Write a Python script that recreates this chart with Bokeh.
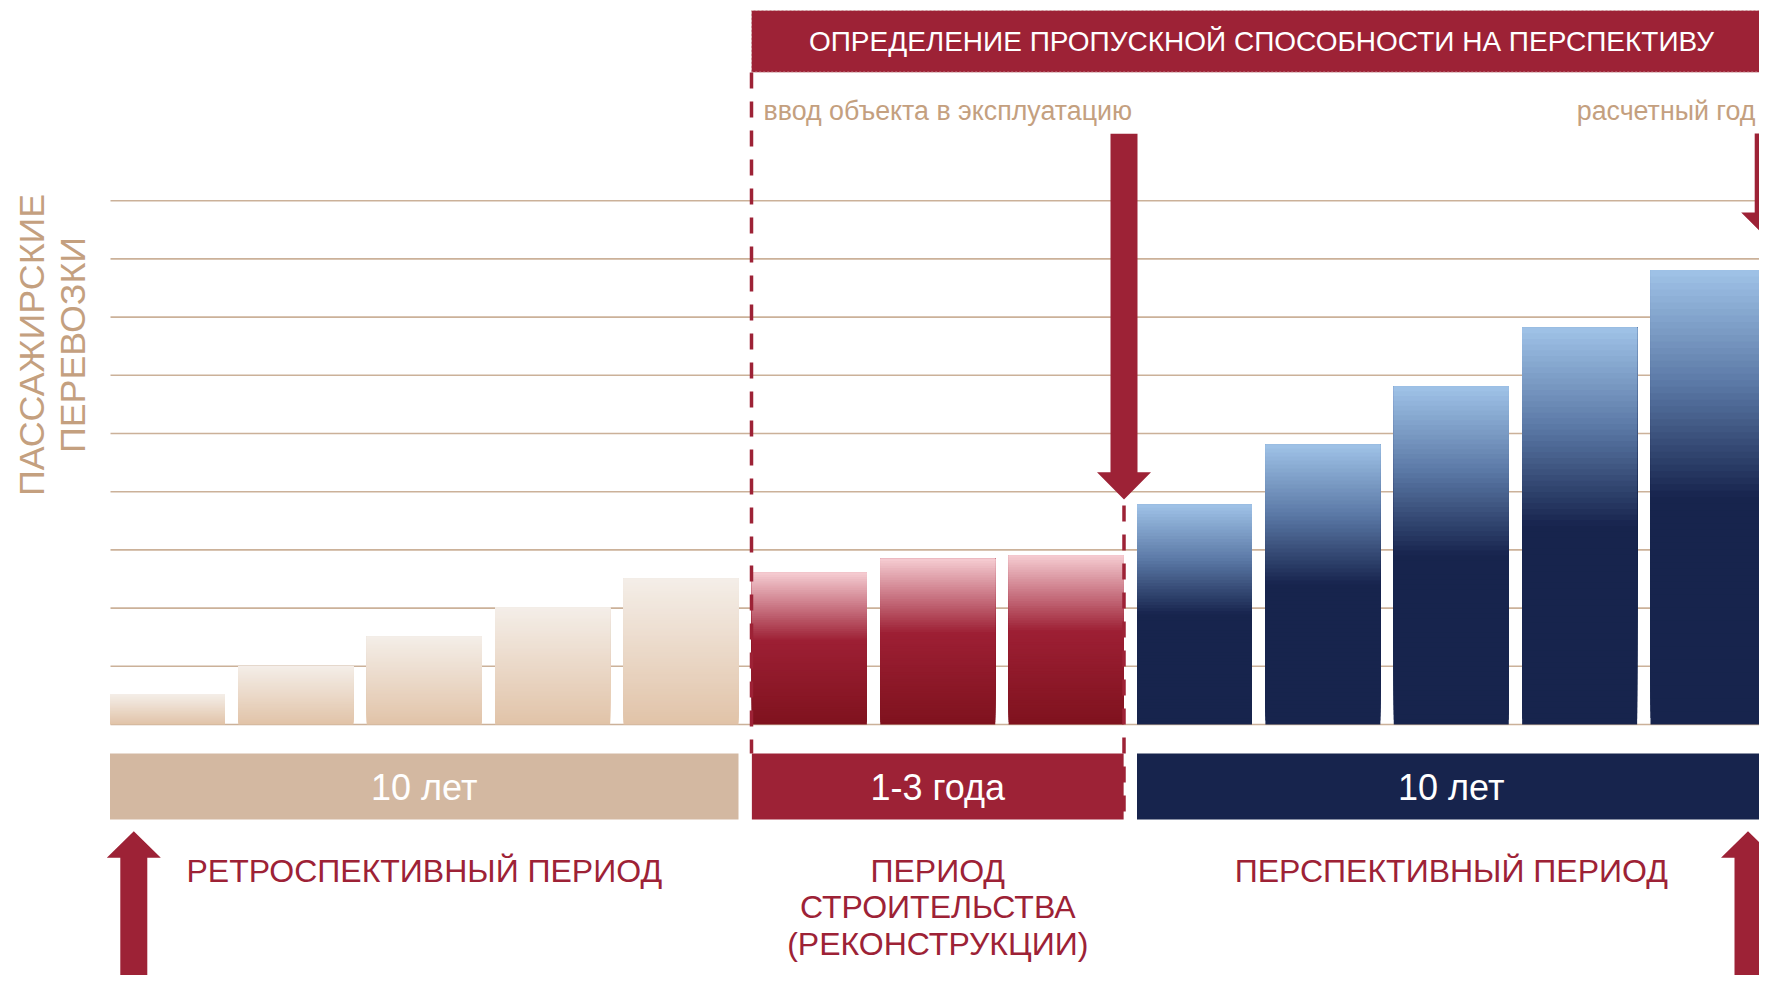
import math
from bokeh.plotting import figure
from bokeh.models import Label, Range1d
from bokeh.embed import file_html
from bokeh.resources import INLINE

# ---------------- data ----------------
retro_values = [0.52, 1.0, 1.51, 2.01, 2.51]          # ретроспективный период
construction_values = [2.61, 2.85, 2.91]              # период строительства
perspective_values = [3.78, 4.81, 5.81, 6.82, 7.81]   # перспективный период
grid_levels = [0, 1, 2, 3, 4, 5, 6, 7, 8, 9]
period_durations = ["10 лет", "1-3 года", "10 лет"]
period_names = [["РЕТРОСПЕКТИВНЫЙ ПЕРИОД"],
                ["ПЕРИОД", "СТРОИТЕЛЬСТВА", "(РЕКОНСТРУКЦИИ)"],
                ["ПЕРСПЕКТИВНЫЙ ПЕРИОД"]]
banner_text = "ОПРЕДЕЛЕНИЕ ПРОПУСКНОЙ СПОСОБНОСТИ НА ПЕРСПЕКТИВУ"
marker_texts = ["ввод объекта в эксплуатацию", "расчетный год"]
y_title = ["ПАССАЖИРСКИЕ", "ПЕРЕВОЗКИ"]

# ---------------- layout / style ----------------
W, H = 1759, 975
PX0, PITCH = 167.0, 128.375
BASE, UNIT = 724.0, 58.2
FONT = "Liberation Sans"
CRIMSON = "#9d2236"
TAN = "#c4a07f"
NAVY = "#17244d"


def X(px):
    return (px - PX0) / PITCH


def Y(py):
    return (BASE - py) / UNIT


def hex2rgb(h):
    h = h.lstrip("#")
    return [int(h[i:i + 2], 16) for i in (0, 2, 4)]


def interp(stops, f):
    for (f0, c0), (f1, c1) in zip(stops, stops[1:]):
        if f <= f1:
            t = 0 if f1 == f0 else (f - f0) / (f1 - f0)
            a, b = hex2rgb(c0), hex2rgb(c1)
            return "#%02x%02x%02x" % tuple(round(a[i] + (b[i] - a[i]) * t) for i in range(3))
    return stops[-1][1]


beige_stops = [(0.0, "#f4eee8"), (1.0, "#e1c3a8")]
red_stops = [(0.0, "#f6cdd3"), (0.45, "#9d1f34"), (1.0, "#7f121e")]
blue_stops = [(0.0, "#a0c3e8"), (0.25, "#5b79a6"), (0.5, NAVY), (1.0, NAVY)]

p = figure(width=W, height=H,
           x_range=Range1d(X(0), X(W)),
           y_range=Range1d(Y(H), Y(0)),
           output_backend="svg", toolbar_location=None,
           x_axis_location=None, y_axis_location=None,
           min_border=0, outline_line_color=None,
           background_fill_color="white", border_fill_color="white")
for g in p.grid:
    g.visible = False

# gridlines
p.segment(x0=X(110), x1=X(1765), y0=grid_levels, y1=grid_levels,
          line_color="#cbb199", line_width=1.6)

# gradient bars
BAR_W = 115 / PITCH
N = 70
groups = [(retro_values, beige_stops), (construction_values, red_stops),
          (perspective_values, blue_stops)]
L, R, B, T, C = [], [], [], [], []
group_ranges = []
idx = 0
for values, stops in groups:
    start = idx
    for v in values:
        for k in range(N):
            L.append(idx - BAR_W / 2)
            R.append(idx + BAR_W / 2)
            B.append(v * k / N)
            T.append(v)
            C.append(interp(stops, 1 - (k + 0.5) / N))
        idx += 1
    group_ranges.append((start, idx - 1))
p.quad(left=L, right=R, bottom=B, top=T, fill_color=C, line_color=None)

# period boxes
box_cols = ["#d3b8a1", CRIMSON, NAVY]
for (i0, i1), col, dur, names in zip(group_ranges, box_cols, period_durations, period_names):
    left, right = i0 - BAR_W / 2, i1 + BAR_W / 2
    p.quad(left=[left], right=[right], bottom=[Y(819)], top=[Y(753)],
           fill_color=col, line_color=None)
    cx = (i0 + i1) / 2
    p.add_layout(Label(x=cx, y=Y(787), text=dur, text_align="center",
                       text_baseline="middle", text_color="white",
                       text_font=FONT, text_font_size="36px"))
    for j, line in enumerate(names):
        p.add_layout(Label(x=cx, y=Y(870.0 + 36.7 * j), text=line, text_align="center",
                           text_baseline="middle", text_color=CRIMSON,
                           text_font=FONT, text_font_size="32px"))

# banner
p.quad(left=[X(751)], right=[X(1771)], bottom=[Y(71.7)], top=[Y(10)],
       fill_color=CRIMSON, line_color="#d9b8b8", line_width=1, line_dash="2 2")
p.add_layout(Label(x=X(1261), y=Y(40.5), text=banner_text, text_align="center",
                   text_baseline="middle", text_color="white",
                   text_font=FONT, text_font_size="28px"))

# marker texts
p.add_layout(Label(x=X(763), y=Y(110.5), text=marker_texts[0], text_align="left",
                   text_baseline="middle", text_color=TAN,
                   text_font=FONT, text_font_size="26.8px"))
p.add_layout(Label(x=X(1755), y=Y(110.5), text=marker_texts[1], text_align="right",
                   text_baseline="middle", text_color=TAN,
                   text_font=FONT, text_font_size="26.8px"))

# y title
for cxp, line in zip([31.5, 72.5], y_title):
    p.add_layout(Label(x=X(cxp), y=Y(344.5), text=line, angle=math.pi / 2,
                       text_align="center", text_baseline="middle", text_color=TAN,
                       text_font=FONT, text_font_size="35.8px"))

# dashed frame lines
dash_x0 = [X(751), X(1768), X(1123.5)]
dash_y0 = [Y(72), Y(72), Y(505)]
dash_y1 = [Y(753), Y(753), Y(819)]
p.segment(x0=dash_x0, x1=dash_x0, y0=dash_y0, y1=dash_y1,
          line_color=CRIMSON, line_width=3.5, line_dash="16 13")


# arrows
def down_arrow(cx, top, base, tip, sw=13.5, hw=27):
    xs = [cx - sw, cx + sw, cx + sw, cx + hw, cx, cx - hw, cx - sw]
    ys = [top, top, base, base, tip, base, base]
    return [X(v) for v in xs], [Y(v) for v in ys]


def up_arrow(cx, bottom, base, tip, sw=13.5, hw=27):
    xs = [cx - sw, cx + sw, cx + sw, cx + hw, cx, cx - hw, cx - sw]
    ys = [bottom, bottom, base, base, tip, base, base]
    return [X(v) for v in xs], [Y(v) for v in ys]


arrows = [down_arrow(1123.5, 133.3, 471.7, 499),
          down_arrow(1767.7, 133, 212, 239),
          up_arrow(133.3, 1000, 857.3, 830.7),
          up_arrow(1747.5, 1000, 857.3, 830.7)]
p.patches(xs=[a[0] for a in arrows], ys=[a[1] for a in arrows],
          fill_color=CRIMSON, line_color=None)

open("out.html", "w").write(file_html(p, INLINE))
